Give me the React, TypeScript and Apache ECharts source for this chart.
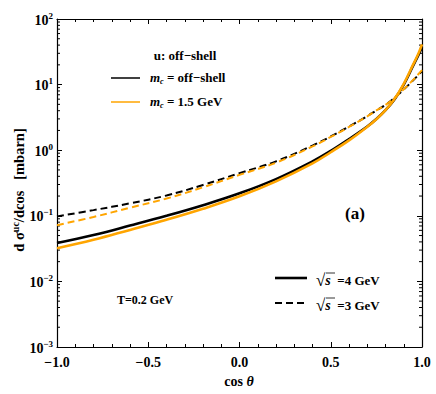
import React, { useEffect, useRef } from 'react';
import * as echarts from 'echarts';

const cosTheta = [-1, -0.8, -0.6, -0.4, -0.2, 0, 0.2, 0.4, 0.5, 0.6, 0.7, 0.75, 0.8, 0.85, 0.9, 0.95, 0.98, 1.0];
const s4OffShell = [0.0385, 0.051, 0.071, 0.1, 0.145, 0.22, 0.363, 0.676, 0.977, 1.48, 2.3, 2.99, 4.07, 6.0, 10.0, 19.1, 28.2, 37.2];
const s4Mc15 = [0.032, 0.043, 0.061, 0.087, 0.128, 0.198, 0.335, 0.63, 0.93, 1.41, 2.27, 2.97, 4.07, 6.1, 10.3, 19.8, 29.5, 41];
const s3OffShell = [0.098, 0.122, 0.155, 0.204, 0.295, 0.447, 0.676, 1.175, 1.62, 2.29, 3.31, 4.03, 4.9, 6.3, 8.4, 11.5, 14.0, 16.0];
const s3Mc15 = [0.072, 0.096, 0.133, 0.183, 0.272, 0.42, 0.645, 1.14, 1.59, 2.26, 3.28, 4.05, 4.9, 6.3, 8.5, 11.7, 14.4, 16.6];
const yMin = 0.001;
const yMax = 100;
const minorLogTicks = [-3, -2, -1, 0, 1].flatMap((k) => [2, 3, 4, 5, 6, 7, 8, 9].map((m) => m * Math.pow(10, k)));

const ORANGE = '#FFA500';
const FONT = 'Liberation Serif';

const pairs = (ys: number[]) => cosTheta.map((x, i) => [x, ys[i]]);

export default function App() {
  const ref = useRef<HTMLDivElement>(null);
  useEffect(() => {
    if (!ref.current) return;
    const chart = echarts.init(ref.current, null, { renderer: 'svg' });
    const supRich = {
      b: { fontFamily: FONT, fontWeight: 'bold', fontSize: 14, color: '#000', verticalAlign: 'bottom' },
      s: { fontFamily: FONT, fontWeight: 'bold', fontSize: 9, color: '#000', verticalAlign: 'bottom', padding: [0, 0, 7, 0] },
    };
    const lineSeries = (name: string, ys: number[], color: string, width: number, dashed: boolean) => ({
      name,
      type: 'line',
      data: pairs(ys),
      smooth: 0.4,
      symbol: 'none',
      lineStyle: { color, width, type: dashed ? [7, 4] : 'solid' },
      xAxisIndex: 0,
      yAxisIndex: 0,
    });
    const frameLine = { show: true, onZero: false, lineStyle: { color: '#000', width: 1.2 } };
    const mRich = {
      m: { fontFamily: FONT, fontWeight: 'bold', fontStyle: 'italic', fontSize: 13, fill: '#000', verticalAlign: 'bottom', padding: [0, 0, 2, 0] },
      c: { fontFamily: FONT, fontWeight: 'bold', fontStyle: 'italic', fontSize: 8, fill: '#000', verticalAlign: 'bottom' },
      a: { fontFamily: FONT, fontWeight: 'bold', fontSize: 13, fill: '#000', verticalAlign: 'bottom', padding: [0, 0, 2, 0] },
    };
    const sRich = {
      r: { fontFamily: FONT, fontSize: 17, fill: '#000' },
      s: { fontFamily: FONT, fontWeight: 'bold', fontStyle: 'italic', fontSize: 14, fill: '#000' },
      a: { fontFamily: FONT, fontWeight: 'bold', fontSize: 13, fill: '#000' },
    };
    chart.setOption({
      animation: false,
      grid: { left: 57, right: 14, top: 19, bottom: 47, containLabel: false },
      xAxis: [
        {
          type: 'value', min: -1, max: 1, interval: 0.5, position: 'bottom',
          axisLine: frameLine,
          axisTick: { inside: true, length: 5, lineStyle: { color: '#000' } },
          minorTick: { show: true, splitNumber: 5, length: 3, lineStyle: { color: '#000' } },
          splitLine: { show: false },
          axisLabel: {
            fontFamily: FONT, fontWeight: 'bold', fontSize: 14, color: '#000', margin: 8,
            formatter: (v: number) => (v < 0 ? '\u2212' : '') + Math.abs(v).toFixed(1),
          },
        },
        {
          type: 'value', min: -1, max: 1, interval: 0.5, position: 'top',
          axisLine: frameLine,
          axisTick: { inside: true, length: 5, lineStyle: { color: '#000' } },
          minorTick: { show: true, splitNumber: 5, length: 3, lineStyle: { color: '#000' } },
          splitLine: { show: false },
          axisLabel: { show: false },
        },
      ],
      yAxis: [
        {
          type: 'log', min: yMin, max: yMax, logBase: 10, position: 'left',
          axisLine: frameLine,
          axisTick: { show: true, inside: true, length: 5, lineStyle: { color: '#000' } },
          splitLine: { show: false },
          axisLabel: {
            margin: 4,
            formatter: (v: number) => {
              const e = Math.round(Math.log10(v));
              return '{b|10}{s|' + (e < 0 ? '\u2212' + Math.abs(e) : String(e)) + '}';
            },
            rich: supRich,
          },
        },
        {
          type: 'log', min: yMin, max: yMax, logBase: 10, position: 'right',
          axisLine: frameLine,
          axisTick: { show: true, inside: true, length: 5, lineStyle: { color: '#000' } },
          splitLine: { show: false },
          axisLabel: { show: false },
        },
      ],
      series: [
        lineSeries('4 GeV off-shell', s4OffShell, '#000', 2.6, false),
        lineSeries('3 GeV off-shell', s3OffShell, '#000', 2, true),
        lineSeries('4 GeV mc=1.5', s4Mc15, ORANGE, 2.6, false),
        lineSeries('3 GeV mc=1.5', s3Mc15, ORANGE, 2, true),
        {
          type: 'custom',
          xAxisIndex: 0,
          yAxisIndex: 0,
          silent: true,
          clip: false,
          data: minorLogTicks.map((v) => [v]),
          renderItem: (params: any, api: any) => {
            const v = api.value(0);
            const l = api.coord([-1, v]);
            const r = api.coord([1, v]);
            return {
              type: 'group',
              children: [
                { type: 'line', shape: { x1: l[0], y1: l[1], x2: l[0] + 3, y2: l[1] }, style: { stroke: '#000', lineWidth: 1 } },
                { type: 'line', shape: { x1: r[0], y1: r[1], x2: r[0] - 3, y2: r[1] }, style: { stroke: '#000', lineWidth: 1 } },
              ],
            };
          },
        },
      ],
      graphic: [
        {
          type: 'text', x: 18, y: 190, rotation: Math.PI / 2,
          style: {
            text: '{a|d \u03c3}{s|uc}{a|/dcos   [mbarn]}',
            align: 'center', verticalAlign: 'middle',
            rich: {
              a: { fontFamily: FONT, fontWeight: 'bold', fontSize: 14.5, fill: '#000', verticalAlign: 'bottom' },
              s: { fontFamily: FONT, fontWeight: 'bold', fontSize: 10, fill: '#000', verticalAlign: 'bottom', padding: [0, 0, 6, 0] },
            },
          },
        },
        {
          type: 'text', x: 239, y: 381,
          style: {
            text: '{a|cos }{i|\u03b8}',
            align: 'center', verticalAlign: 'middle',
            rich: {
              a: { fontFamily: FONT, fontWeight: 'bold', fontSize: 14, fill: '#000' },
              i: { fontFamily: FONT, fontWeight: 'bold', fontStyle: 'italic', fontSize: 14, fill: '#000' },
            },
          },
        },
        {
          type: 'text', x: 185, y: 55,
          style: { text: 'u: off\u2212shell', align: 'center', verticalAlign: 'middle', font: 'bold 13px "Liberation Serif"', fill: '#000' },
        },
        { type: 'line', shape: { x1: 111, y1: 78, x2: 140, y2: 78 }, style: { stroke: '#000', lineWidth: 1.5 } },
        { type: 'line', shape: { x1: 111, y1: 102, x2: 140, y2: 102 }, style: { stroke: ORANGE, lineWidth: 1.5 } },
        { type: 'text', x: 150, y: 78, style: { text: '{m|m}{c|c}{a| = off\u2212shell}', verticalAlign: 'middle', rich: mRich } },
        { type: 'text', x: 150, y: 102, style: { text: '{m|m}{c|c}{a| = 1.5 GeV}', verticalAlign: 'middle', rich: mRich } },
        {
          type: 'text', x: 355, y: 213,
          style: { text: '(a)', align: 'center', verticalAlign: 'middle', font: 'bold 17px "Liberation Serif"', fill: '#000' },
        },
        { type: 'line', shape: { x1: 275, y1: 278, x2: 307, y2: 278 }, style: { stroke: '#000', lineWidth: 2.6 } },
        { type: 'line', shape: { x1: 275, y1: 303, x2: 307, y2: 303 }, style: { stroke: '#000', lineWidth: 2, lineDash: [7, 4] } },
        { type: 'text', x: 316, y: 280, style: { text: '{r|\u221a}{s|s}{a|  =4 GeV}', verticalAlign: 'middle', rich: sRich } },
        { type: 'line', shape: { x1: 326, y1: 273, x2: 335, y2: 273 }, style: { stroke: '#000', lineWidth: 0.8 } },
        { type: 'text', x: 316, y: 305, style: { text: '{r|\u221a}{s|s}{a|  =3 GeV}', verticalAlign: 'middle', rich: sRich } },
        { type: 'line', shape: { x1: 326, y1: 298, x2: 335, y2: 298 }, style: { stroke: '#000', lineWidth: 0.8 } },
        {
          type: 'text', x: 117, y: 300,
          style: { text: 'T=0.2 GeV', verticalAlign: 'middle', font: 'bold 12px "Liberation Serif"', fill: '#000' },
        },
      ],
    });
    return () => chart.dispose();
  }, []);
  return <div ref={ref} style={{ position: 'fixed', left: 0, top: 0, width: 436, height: 394, background: '#fff' }} />;
}
